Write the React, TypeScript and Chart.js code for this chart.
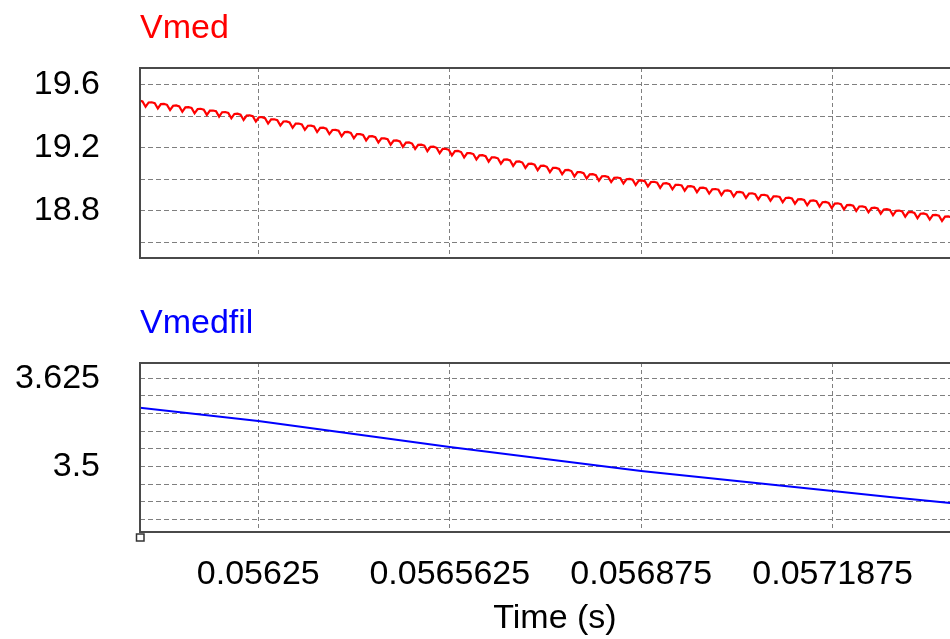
import React, { useEffect, useRef } from "react";
import { Chart, registerables } from "chart.js";

Chart.register(...registerables);

// ---- shared time axis ----
const timeMin = 0.0560569;
const timeMax = 0.0574117;
const timeTicks = [0.05625, 0.0565625, 0.056875, 0.0571875];
const timeTickLabels = ["0.05625", "0.0565625", "0.056875", "0.0571875"];
const timeTitle = "Time (s)";

// ---- Vmed panel ----
const vmedTitle = "Vmed";
const vmedMin = 18.5005;
const vmedMax = 19.708;
const vmedGrid = [18.6, 18.8, 19.0, 19.2, 19.4, 19.6];
const vmedLabelValues = [19.6, 19.2, 18.8];
const vmedLabelText = ["19.6", "19.2", "18.8"];
const vmedStart = 0.056046; // first sample time (s)
const vmedStep = 0.000005; // sample step (s)
const vmedValues = [
  19.472, 19.499, 19.501, 19.495,
  19.462, 19.489, 19.490, 19.485,
  19.451, 19.479, 19.480, 19.474,
  19.441, 19.468, 19.470, 19.464,
  19.430, 19.458, 19.459, 19.454,
  19.420, 19.447, 19.449, 19.443,
  19.410, 19.437, 19.438, 19.433,
  19.399, 19.427, 19.428, 19.422,
  19.389, 19.416, 19.418, 19.412,
  19.378, 19.406, 19.407, 19.402,
  19.368, 19.395, 19.396, 19.389,
  19.355, 19.382, 19.382, 19.376,
  19.342, 19.368, 19.369, 19.362,
  19.328, 19.355, 19.355, 19.349,
  19.315, 19.341, 19.342, 19.336,
  19.301, 19.328, 19.329, 19.322,
  19.288, 19.314, 19.315, 19.309,
  19.274, 19.301, 19.302, 19.295,
  19.261, 19.288, 19.288, 19.282,
  19.248, 19.274, 19.275, 19.268,
  19.234, 19.261, 19.261, 19.255,
  19.221, 19.247, 19.248, 19.242,
  19.207, 19.234, 19.235, 19.228,
  19.194, 19.220, 19.221, 19.215,
  19.180, 19.207, 19.208, 19.201,
  19.167, 19.194, 19.194, 19.188,
  19.153, 19.180, 19.181, 19.174,
  19.140, 19.167, 19.167, 19.161,
  19.127, 19.153, 19.154, 19.148,
  19.113, 19.140, 19.140, 19.134,
  19.100, 19.126, 19.127, 19.121,
  19.086, 19.113, 19.114, 19.107,
  19.073, 19.099, 19.100, 19.094,
  19.059, 19.086, 19.087, 19.080,
  19.046, 19.073, 19.073, 19.067,
  19.033, 19.059, 19.060, 19.053,
  19.019, 19.046, 19.046, 19.040,
  19.006, 19.032, 19.033, 19.027,
  18.992, 19.020, 19.021, 19.016,
  18.983, 19.010, 19.012, 19.007,
  18.974, 19.001, 19.003, 18.998,
  18.964, 18.992, 18.994, 18.989,
  18.955, 18.983, 18.985, 18.979,
  18.946, 18.974, 18.976, 18.970,
  18.937, 18.965, 18.966, 18.961,
  18.928, 18.956, 18.957, 18.952,
  18.919, 18.946, 18.948, 18.943,
  18.910, 18.937, 18.939, 18.934,
  18.900, 18.928, 18.930, 18.925,
  18.891, 18.919, 18.921, 18.915,
  18.882, 18.910, 18.912, 18.906,
  18.873, 18.901, 18.902, 18.897,
  18.864, 18.892, 18.893, 18.888,
  18.855, 18.882, 18.884, 18.879,
  18.846, 18.873, 18.875, 18.870,
  18.836, 18.864, 18.866, 18.861,
  18.827, 18.855, 18.857, 18.851,
  18.818, 18.846, 18.848, 18.842,
  18.809, 18.837, 18.838, 18.833,
  18.800, 18.828, 18.829, 18.824,
  18.791, 18.818, 18.820, 18.815,
  18.782, 18.809, 18.811, 18.806,
  18.772, 18.800, 18.802, 18.797,
  18.763, 18.791, 18.793, 18.787,
  18.754, 18.782, 18.784, 18.778,
  18.745, 18.773, 18.774, 18.769,
  18.736, 18.764, 18.765, 18.760,
  18.727, 18.754, 18.756, 18.751,
];

// ---- Vmedfil panel ----
const filTitle = "Vmedfil";
const filMin = 3.407;
const filMax = 3.6467;
const filGrid = [3.425, 3.45, 3.475, 3.5, 3.525, 3.55, 3.575, 3.6, 3.625];
const filLabelValues = [3.625, 3.5];
const filLabelText = ["3.625", "3.5"];
const filTimes = [
  0.05605, 0.05625, 0.05640625, 0.0565625, 0.05671875, 0.056875, 0.05703125,
  0.0571875, 0.0572806, 0.0573794, 0.0574,
];
const filValues = [
  3.584, 3.5645, 3.546, 3.5276, 3.5106, 3.4936, 3.4794, 3.4652, 3.4567,
  3.4482, 3.446,
];

const FONT_FAMILY = '"Liberation Sans", Arial, sans-serif';
const FONT_SIZE = 34;
const GRID_COLOR = "#7f7f7f";
const FRAME_COLOR = "#4a4a4a";

const panelDecor = {
  id: "panelDecor",
  afterDraw(chart: any, _args: any, opts: any) {
    const { ctx, chartArea: a } = chart;
    ctx.save();
    ctx.strokeStyle = FRAME_COLOR;
    ctx.lineWidth = 2;
    ctx.strokeRect(a.left, a.top, a.right - a.left, a.bottom - a.top);
    ctx.font = `${FONT_SIZE}px ${FONT_FAMILY}`;
    ctx.fillStyle = opts.color;
    ctx.textAlign = "left";
    ctx.textBaseline = "alphabetic";
    ctx.fillText(opts.title, a.left, a.top - 30);
    if (opts.marker) {
      ctx.lineWidth = 1.5;
      ctx.strokeStyle = "#333333";
      ctx.strokeRect(a.left - 3.5, a.bottom + 2, 7.5, 7);
    }
    ctx.restore();
  },
};

function yScale(min: number, max: number, grid: number[], labelVals: number[], labelText: string[]) {
  return {
    type: "linear",
    min,
    max,
    afterBuildTicks: (s: any) => {
      s.ticks = grid.map((v) => ({ value: v }));
    },
    afterFit: (s: any) => {
      s.width = 140;
      s.paddingTop = 0;
      s.paddingBottom = 0;
    },
    ticks: {
      autoSkip: false,
      padding: 40,
      color: "#000",
      font: { family: FONT_FAMILY, size: FONT_SIZE },
      callback: (v: number) => {
        const i = labelVals.indexOf(v);
        return i >= 0 ? labelText[i] : "";
      },
    },
    grid: { color: GRID_COLOR, lineWidth: 1, drawTicks: false },
    border: { display: false, dash: [5, 3] },
  };
}

function xScale(showLabels: boolean, height: number) {
  return {
    type: "linear",
    min: timeMin,
    max: timeMax,
    afterBuildTicks: (s: any) => {
      s.ticks = timeTicks.map((v) => ({ value: v }));
    },
    afterFit: (s: any) => {
      s.height = height;
      s.paddingLeft = 0;
      s.paddingRight = 0;
    },
    ticks: {
      display: showLabels,
      autoSkip: false,
      maxRotation: 0,
      minRotation: 0,
      padding: 22,
      color: "#000",
      font: { family: FONT_FAMILY, size: FONT_SIZE },
      callback: (_v: number, i: number) => timeTickLabels[i],
    },
    title: {
      display: showLabels,
      text: timeTitle,
      color: "#000",
      font: { family: FONT_FAMILY, size: FONT_SIZE },
      padding: { top: 0, bottom: 0 },
    },
    grid: { color: GRID_COLOR, lineWidth: 1, drawTicks: false },
    border: { display: false, dash: [4, 3] },
  };
}

export default function App() {
  const topRef = useRef<HTMLCanvasElement>(null);
  const botRef = useRef<HTMLCanvasElement>(null);

  useEffect(() => {
    const top = new Chart(topRef.current as HTMLCanvasElement, {
      type: "line",
      data: {
        datasets: [
          {
            label: vmedTitle,
            data: vmedValues.map((v, i) => ({ x: vmedStart + i * vmedStep, y: v })),
            borderColor: "#ff0000",
            borderWidth: 2.2,
            pointRadius: 0,
            tension: 0,
            fill: false,
          },
        ],
      },
      options: {
        responsive: false,
        animation: false,
        layout: { padding: { top: 68, bottom: 32, left: 0, right: 0 } },
        plugins: {
          legend: { display: false },
          tooltip: { enabled: false },
          panelDecor: { title: vmedTitle, color: "#ff0000", marker: false },
        } as any,
        scales: {
          x: xScale(false, 0),
          y: yScale(vmedMin, vmedMax, vmedGrid, vmedLabelValues, vmedLabelText),
        } as any,
      },
      plugins: [panelDecor],
    } as any);

    const bot = new Chart(botRef.current as HTMLCanvasElement, {
      type: "line",
      data: {
        datasets: [
          {
            label: filTitle,
            data: filValues.map((v, i) => ({ x: filTimes[i], y: v })),
            borderColor: "#0000ff",
            borderWidth: 2,
            pointRadius: 0,
            tension: 0,
            fill: false,
          },
        ],
      },
      options: {
        responsive: false,
        animation: false,
        layout: { padding: { top: 73, bottom: 0, left: 0, right: 0 } },
        plugins: {
          legend: { display: false },
          tooltip: { enabled: false },
          panelDecor: { title: filTitle, color: "#0000ff", marker: true },
        } as any,
        scales: {
          x: xScale(true, 107),
          y: yScale(filMin, filMax, filGrid, filLabelValues, filLabelText),
        } as any,
      },
      plugins: [panelDecor],
    } as any);

    return () => {
      top.destroy();
      bot.destroy();
    };
  }, []);

  return (
    <div
      style={{
        position: "fixed",
        left: 0,
        top: 0,
        width: 950,
        height: 639,
        overflow: "hidden",
        background: "#ffffff",
      }}
    >
      <canvas
        ref={topRef}
        width={970}
        height={290}
        style={{ position: "absolute", left: 0, top: 0, width: 970, height: 290 }}
      />
      <canvas
        ref={botRef}
        width={970}
        height={349}
        style={{ position: "absolute", left: 0, top: 290, width: 970, height: 349 }}
      />
    </div>
  );
}
